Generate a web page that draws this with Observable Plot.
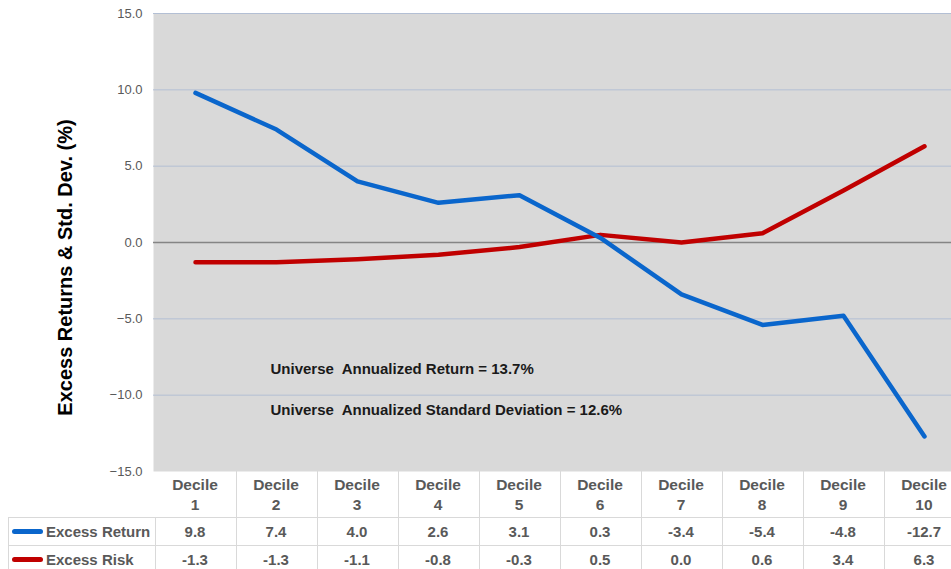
<!DOCTYPE html>
<html><head><meta charset="utf-8">
<script src="https://cdn.jsdelivr.net/npm/d3@7"></script>
<script src="https://cdn.jsdelivr.net/npm/@observablehq/plot@0.6"></script>
<style>
body{margin:0;background:#fff;overflow:hidden;width:951px;height:569px;position:relative;font-family:"Liberation Sans",Arial,sans-serif}
#chart{position:absolute;left:0;top:0}
#table{position:absolute;left:0;top:0;width:951px;height:569px}
.cell{position:absolute;box-sizing:border-box;display:flex;align-items:center;justify-content:center;text-align:center;font-weight:bold;color:#595959;font-size:15px;line-height:20px;border-right:1px solid #d9d9d9;border-bottom:1px solid #d9d9d9}
.hdr{font-size:15.5px;padding-top:2px}
.lab{justify-content:flex-start;border-left:1px solid #d9d9d9;font-size:15px}
.sw{display:inline-block;width:31px;height:5px;border-radius:3px;margin:0 3px 0 3px}
</style></head><body>
<div id="chart"></div>
<div id="table"></div>
<script>
const deciles = ["Decile 1","Decile 2","Decile 3","Decile 4","Decile 5","Decile 6","Decile 7","Decile 8","Decile 9","Decile 10"];
const excessReturn = [9.8, 7.4, 4.0, 2.6, 3.1, 0.3, -3.4, -5.4, -4.8, -12.7];
const excessRisk = [-1.3, -1.3, -1.1, -0.8, -0.3, 0.5, 0.0, 0.6, 3.4, 6.3];
const seriesNames = ["Excess Return", "Excess Risk"];
const seriesColors = ["#0a66cc", "#c00000"];
const yTicks = [-15, -10, -5, 0, 5, 10, 15];
const gridValues = [15, 10, 5, -5, -10];
const yTitle = "Excess Returns & Std. Dev. (%)";
const notes = [
  {x: "Decile 2", y: -8.3, text: "Universe  Annualized Return = 13.7%"},
  {x: "Decile 2", y: -11.0, text: "Universe  Annualized Standard Deviation = 12.6%"}
];

const seriesValues = [excessReturn, excessRisk];
const rows = seriesNames.flatMap((s, si) => deciles.map((d, i) => ({series: s, decile: d, value: seriesValues[si][i]})));

const plot = Plot.plot({
  width: 951,
  height: 569,
  marginTop: 13,
  marginBottom: 98,
  marginLeft: 153,
  marginRight: 0,
  style: {fontFamily: '"Liberation Sans", Arial, sans-serif', overflow: "hidden", background: "transparent"},
  x: {type: "point", domain: deciles, range: [153, 965], padding: 0.5, axis: null},
  y: {domain: [-15, 15], label: null},
  color: {domain: seriesNames, range: seriesColors},
  marks: [
    Plot.frame({fill: "#d9d9d9", stroke: null}),
    Plot.ruleY(gridValues, {stroke: "#b3bfd4", strokeWidth: 1}),
    Plot.ruleY([0], {stroke: "#858585", strokeWidth: 1.5}),
    Plot.axisY({ticks: yTicks, tickFormat: d3.format(".1f"), tickSize: 0, tickPadding: 11, fontSize: 13, fill: "#595959", label: null}),
    Plot.text([yTitle], {frameAnchor: "left", textAnchor: "middle", rotate: -90, dx: -88, dy: 25, fontWeight: "bold", fontSize: 20, fill: "#000"}),
    Plot.line(rows.filter(r => r.series === "Excess Risk"), {x: "decile", y: "value", stroke: "series", strokeWidth: 4.5, strokeLinecap: "round", strokeLinejoin: "round"}),
    Plot.line(rows.filter(r => r.series === "Excess Return"), {x: "decile", y: "value", stroke: "series", strokeWidth: 4.5, strokeLinecap: "round", strokeLinejoin: "round"}),
    Plot.text(notes, {x: "x", y: "y", text: "text", textAnchor: "start", dx: -6, fontWeight: "bold", fontSize: 15, fill: "#1a1a1a"})
  ]
});
document.getElementById("chart").appendChild(plot);

// data table aligned with the x scale
const xs = plot.scale("x");
const step = xs.apply(deciles[1]) - xs.apply(deciles[0]);
const tbl = document.getElementById("table");
const top0 = 471, h0 = 47, h1 = 28, h2 = 28;
function cell(x, y, w, h, html, cls) {
  const c = document.createElement("div");
  c.className = "cell" + (cls ? " " + cls : "");
  Object.assign(c.style, {left: x + "px", top: y + "px", width: w + "px", height: h + "px"});
  c.innerHTML = html;
  tbl.appendChild(c);
}
deciles.forEach((d, i) => {
  const x0 = xs.apply(d) - step / 2;
  const parts = d.split(" ");
  cell(x0, top0, step + 1, h0, parts[0] + "<br>" + parts[1], "hdr");
  cell(x0, top0 + h0, step + 1, h1, excessReturn[i].toFixed(1));
  cell(x0, top0 + h0 + h1, step + 1, h2, excessRisk[i].toFixed(1));
});
const labX = 8, labW = xs.apply(deciles[0]) - step / 2 - labX + 1;
seriesNames.forEach((s, si) => {
  const y = top0 + h0 + (si === 0 ? 0 : h1);
  cell(labX, y, labW, si === 0 ? h1 : h2, `<span class="sw" style="background:${seriesColors[si]}"></span>${s}`, "lab");
});
const tb = document.createElement("div");
Object.assign(tb.style, {position: "absolute", left: labX + "px", top: (top0 + h0 - 1) + "px", width: labW + "px", height: "1px", background: "#d9d9d9"});
tbl.appendChild(tb);
</script>
</body></html>
